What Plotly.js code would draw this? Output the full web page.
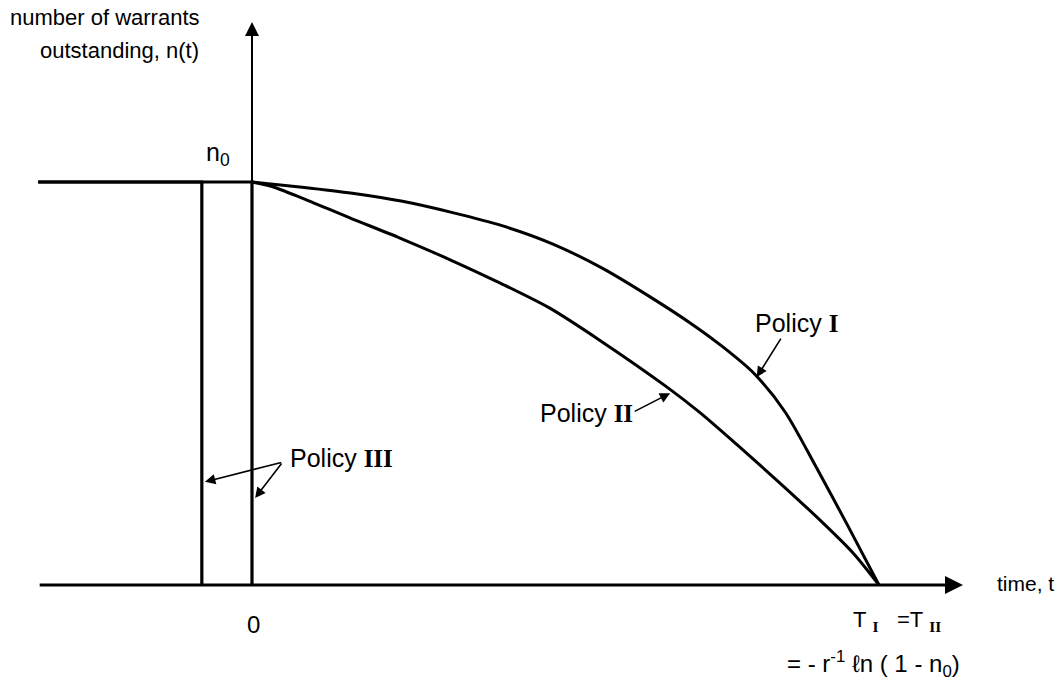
<!DOCTYPE html>
<html>
<head>
<meta charset="utf-8">
<script src="https://cdn.plot.ly/plotly-3.0.1.min.js"></script>
<style>html,body{margin:0;padding:0;background:#fff;}#chart{width:1062px;height:685px;}</style>
</head>
<body>
<div id="chart"></div>
<script>
// ---- data (t in units of T_I = T_II, n in units of n0) ----
const nZero = 1;
const horizonT = 1;
const historyStartT = -0.341;
const policy1T = [0, 0.08, 0.16, 0.24, 0.32, 0.40, 0.48, 0.56, 0.64, 0.70, 0.75, 0.80, 0.85, 0.90, 0.95, 1];
const policy1N = [1, 0.987, 0.972, 0.952, 0.924, 0.891, 0.846, 0.785, 0.710, 0.649, 0.592, 0.526, 0.430, 0.292, 0.148, 0];
const policy2T = [0, 0.029, 0.077, 0.156, 0.236, 0.316, 0.396, 0.475, 0.555, 0.662, 0.715, 0.778, 0.842, 0.906, 0.959, 1];
const policy2N = [1, 0.990, 0.962, 0.911, 0.861, 0.807, 0.749, 0.687, 0.607, 0.491, 0.427, 0.342, 0.253, 0.161, 0.079, 0];
const policy3ExerciseT = [-0.08, 0];
const axisEndT = 1.134;
const axisEndN = 1.397;

const black = '#000';
const traces = [];
traces.push({x: policy1T, y: policy1N, mode: 'lines', line: {color: black, width: 3, shape: 'spline', smoothing: 0.8}, name: 'Policy I', hoverinfo: 'skip'});
traces.push({x: policy2T, y: policy2N, mode: 'lines', line: {color: black, width: 3, shape: 'spline', smoothing: 0.8}, name: 'Policy II', hoverinfo: 'skip'});
policy3ExerciseT.forEach(function (te) {
  traces.push({x: [historyStartT, te, te], y: [nZero, nZero, 0], mode: 'lines', line: {color: black, width: 3.2}, name: 'Policy III', hoverinfo: 'skip'});
});

const F = 'Liberation Sans, Arial, sans-serif';
const SERIF = 'Liberation Serif';
const NB = '\u00A0';
function rn(s) { return '<span style="font-family:' + SERIF + ';font-weight:bold">' + s + '</span>'; }

const annotations = [
  // axes with arrows
  {x: axisEndT, y: 0, ax: historyStartT, ay: 0, xref: 'x', yref: 'y', axref: 'x', ayref: 'y', text: '', showarrow: true, arrowhead: 2, arrowsize: 1.2, arrowwidth: 3, arrowcolor: black},
  {x: 0, y: axisEndN, ax: 0, ay: 0, xref: 'x', yref: 'y', axref: 'x', ayref: 'y', text: '', showarrow: true, arrowhead: 2, arrowsize: 1.4, arrowwidth: 2, arrowcolor: black},
  // label arrows
  {x: 0.805, y: 0.516, ax: 0.845, ay: 0.615, xref: 'x', yref: 'y', axref: 'x', ayref: 'y', text: '', showarrow: true, arrowhead: 2, arrowsize: 1.3, arrowwidth: 1.6, arrowcolor: black},
  {x: 0.667, y: 0.476, ax: 0.608, ay: 0.429, xref: 'x', yref: 'y', axref: 'x', ayref: 'y', text: '', showarrow: true, arrowhead: 2, arrowsize: 1.3, arrowwidth: 1.6, arrowcolor: black},
  {x: -0.075, y: 0.256, ax: 0.049, ay: 0.305, xref: 'x', yref: 'y', axref: 'x', ayref: 'y', text: '', showarrow: true, arrowhead: 2, arrowsize: 1.3, arrowwidth: 1.6, arrowcolor: black},
  {x: 0.005, y: 0.216, ax: 0.049, ay: 0.305, xref: 'x', yref: 'y', axref: 'x', ayref: 'y', text: '', showarrow: true, arrowhead: 2, arrowsize: 1.3, arrowwidth: 1.6, arrowcolor: black},
  // texts
  {x: -0.389, y: 1.407, xref: 'x', yref: 'y', xanchor: 'left', yanchor: 'middle', text: 'number of warrants', showarrow: false, font: {family: F, size: 22, color: black}},
  {x: -0.341, y: 1.326, xref: 'x', yref: 'y', xanchor: 'left', yanchor: 'middle', text: 'outstanding, n(t)', showarrow: false, font: {family: F, size: 22, color: black}},
  {x: -0.076, y: 1.07, xref: 'x', yref: 'y', xanchor: 'left', yanchor: 'middle', text: 'n<sub>0</sub>', showarrow: false, font: {family: F, size: 25, color: black}},
  {x: 0.799, y: 0.650, xref: 'x', yref: 'y', xanchor: 'left', yanchor: 'middle', text: 'Policy ' + rn('I'), showarrow: false, font: {family: F, size: 25, color: black}},
  {x: 0.456, y: 0.427, xref: 'x', yref: 'y', xanchor: 'left', yanchor: 'middle', text: 'Policy ' + rn('II'), showarrow: false, font: {family: F, size: 25, color: black}},
  {x: 0.057, y: 0.315, xref: 'x', yref: 'y', xanchor: 'left', yanchor: 'middle', text: 'Policy ' + rn('III'), showarrow: false, font: {family: F, size: 25, color: black}},
  {x: 0.002, y: -0.097, xref: 'x', yref: 'y', xanchor: 'center', yanchor: 'middle', text: '0', showarrow: false, font: {family: F, size: 24, color: black}},
  {x: 1.185, y: 0.003, xref: 'x', yref: 'y', xanchor: 'left', yanchor: 'middle', text: 'time, t', showarrow: false, font: {family: F, size: 21, color: black}},
  {x: 1.029, y: -0.09, xref: 'x', yref: 'y', xanchor: 'center', yanchor: 'middle', text: 'T' + NB + '<sub>' + rn('I') + '</sub>' + NB + NB + NB + '=T' + NB + '<sub>' + rn('II') + '</sub>', showarrow: false, font: {family: F, size: 22, color: black}},
  {x: 0.992, y: -0.195, xref: 'x', yref: 'y', xanchor: 'center', yanchor: 'middle', text: '=' + NB + '-' + NB + 'r<sup>-1</sup>' + NB + 'ℓn' + NB + '(' + NB + '1' + NB + '-' + NB + 'n<sub>0</sub>)', showarrow: false, font: {family: F, size: 24, color: black}}
];

const layout = {
  width: 1062, height: 685,
  margin: {l: 0, r: 0, t: 0, b: 0},
  paper_bgcolor: '#fff', plot_bgcolor: '#fff',
  showlegend: false,
  xaxis: {range: [-0.4019, 1.2919], visible: false, showgrid: false, zeroline: false, fixedrange: true},
  yaxis: {range: [-0.2481, 1.4516], visible: false, showgrid: false, zeroline: false, fixedrange: true},
  annotations: annotations
};

Plotly.newPlot('chart', traces, layout, {displayModeBar: false, staticPlot: true});
</script>
</body>
</html>
